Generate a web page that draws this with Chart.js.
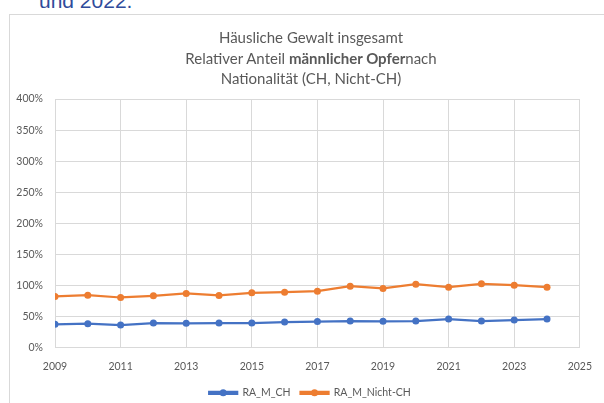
<!DOCTYPE html>
<html>
<head>
<meta charset="utf-8">
<script src="https://cdn.jsdelivr.net/npm/chart.js@4.4.1/dist/chart.umd.min.js"></script>
<style>
  body { margin: 0; background: #fff; width: 604px; height: 403px; overflow: hidden; position: relative; font-family: Lato, sans-serif; }
  #head { position: absolute; left: 39px; top: -10px; font-family: "Liberation Sans", Arial, sans-serif; font-size: 21px; line-height: 21px; color: #2f4b9b; white-space: nowrap; }
  #box { position: absolute; left: 9px; top: 14px; width: 640px; height: 420px; border: 1px solid #d9d9d9; box-sizing: border-box; }
  #wrap { position: absolute; left: 10px; top: 15px; width: 594px; height: 393px; }
  #title { position: absolute; left: 10px; top: 27px; width: 602px; text-align: center; color: #595959; font-size: 15px; line-height: 20.5px; }
</style>
</head>
<body>
<div id="head">und 2022.</div>
<div id="box"></div>
<div id="wrap"><canvas id="myChart"></canvas></div>
<div id="title">Häusliche Gewalt insgesamt<br>Relativer Anteil <b>männlicher Opfer</b>nach<br>Nationalität (CH, Nicht-CH)</div>
<script>
const years = [2009, 2010, 2011, 2012, 2013, 2014, 2015, 2016, 2017, 2018, 2019, 2020, 2021, 2022, 2023, 2024];
const raMCH = [37.9, 38.9, 36.8, 40.0, 39.5, 40.0, 40.0, 41.6, 42.4, 43.2, 42.7, 43.2, 46.4, 43.2, 44.8, 46.4];
const raMNichtCH = [82.7, 84.8, 81.0, 83.7, 87.5, 84.3, 88.5, 89.6, 91.2, 99.2, 95.5, 102.4, 97.6, 102.9, 100.8, 97.6];
const yTicks = [0, 50, 100, 150, 200, 250, 300, 350, 400];

const blue = '#4472c4';
const orange = '#ed7d31';

// Excel puts the legend a bit right of centre and a dot on each legend line
const legendFix = {
    id: 'legendFix',
    afterLayout(chart) {
        const lg = chart.legend;
        const dx = 14;
        lg.left += dx;
        lg.right += dx;
        (lg.legendHitBoxes || []).forEach(h => { h.left += dx; });
    },
    afterDraw(chart) {
        const lg = chart.legend;
        if (!lg || !lg.legendHitBoxes) return;
        const c = chart.ctx;
        lg.legendHitBoxes.forEach((hb, i) => {
            const ds = chart.data.datasets[i];
            c.save();
            c.fillStyle = ds.borderColor;
            c.beginPath();
            c.arc(hb.left + 14, hb.top + hb.height / 2, 3.5, 0, Math.PI * 2);
            c.fill();
            c.restore();
        });
    }
};

const ctx = document.getElementById('myChart');
new Chart(ctx, {
    type: 'line',
    data: {
        datasets: [
            {
                label: 'RA_M_CH',
                data: years.map((y, i) => ({ x: y, y: raMCH[i] })),
                borderColor: blue,
                backgroundColor: blue,
                borderWidth: 2.25,
                pointRadius: 3.5,
                pointBackgroundColor: blue,
                pointBorderWidth: 0,
            },
            {
                label: 'RA_M_Nicht-CH',
                data: years.map((y, i) => ({ x: y, y: raMNichtCH[i] })),
                borderColor: orange,
                backgroundColor: orange,
                borderWidth: 2.25,
                pointRadius: 3.5,
                pointBackgroundColor: orange,
                pointBorderWidth: 0,
            }
        ]
    },
    options: {
        responsive: true,
        maintainAspectRatio: false,
        animation: false,
        layout: { padding: { top: 84, right: 22, left: 0, bottom: 0 } },
        plugins: {
            title: { display: false },
            tooltip: { enabled: false },
            legend: {
                position: 'bottom',
                labels: {
                    boxWidth: 28,
                    boxHeight: 2,
                    color: '#595959',
                    font: { family: 'Lato', size: 10.5 },
                    padding: 10,
                }
            }
        },
        scales: {
            x: {
                type: 'linear',
                min: 2009,
                max: 2025,
                afterFit: s => { s.height -= 7; },
                ticks: {
                    stepSize: 2,
                    color: '#595959',
                    font: { family: 'Lato', size: 10.5 },
                    callback: v => String(v),
                    padding: 12,
                },
                grid: { color: '#d9d9d9', tickLength: 0 },
                border: { color: '#d9d9d9' },
            },
            y: {
                min: 0,
                max: 400,
                afterBuildTicks: s => { s.ticks = yTicks.map(v => ({ value: v })); },
                afterFit: s => { s.width = 45; },
                ticks: {
                    color: '#595959',
                    font: { family: 'Lato', size: 10.5 },
                    callback: v => v + '%',
                    padding: 12,
                },
                grid: { color: '#d9d9d9', tickLength: 0 },
                border: { color: '#d9d9d9' },
            }
        }
    },
    plugins: [legendFix]
});
</script>
</body>
</html>
